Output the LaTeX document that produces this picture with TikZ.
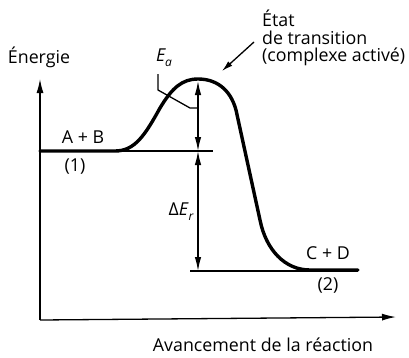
\documentclass[tikz,border=0pt]{standalone}
\usepackage{fontspec}
\setmainfont{Open Sans}
\usetikzlibrary{arrows.meta}
\begin{document}
\begin{tikzpicture}[x=1pt,y=-1pt,
  lbl/.style={inner sep=0pt,font=\fontsize{17.8}{20}\selectfont},
  thin/.style={line width=1.3pt},
  tip/.style={-{Latex[length=14pt,width=7pt]}},
  stip/.style={-{Latex[length=11pt,width=6pt]}},
  dtip/.style={{Latex[length=14pt,width=6.5pt]}-{Latex[length=14pt,width=6.5pt]}},
  curve/.style={line width=3.4pt,line cap=round,line join=round}]
\useasboundingbox (0,0) rectangle (409,357);
% axes
\coordinate (O) at (40,320);
\coordinate (Ytop) at (40,79);
\coordinate (Xend) at (396,317);
\draw[thin,tip] (O) -- (Ytop);
\draw[thin,tip] (O) -- (Xend);
% levels
\coordinate (L1a) at (40,151);
\coordinate (L1b) at (213,151);
\coordinate (L2a) at (190,271);
\coordinate (L2b) at (358,271);
\draw[thin] (L1a) -- (L1b);
\draw[thin] (L2a) -- (L2b);
% curve
\draw[curve] (40,151) -- (115,151) .. controls (135,151) and (145,135) .. (160,108)
  .. controls (172,88) and (182,79) .. (198,79)
  .. controls (215,79) and (230,88) .. (236,110) -- (260,220)
  .. controls (266,250) and (285,270) .. (310,270) -- (358,270);
% energy arrows
\coordinate (P) at (198,81);
\coordinate (A1) at (198,151);
\coordinate (A2) at (198,271);
\draw[thin,dtip] (A1) -- (P);
\draw[thin,dtip] (A1) -- (A2);
% labels
\node[lbl] (en) at (39,57) {Énergie};
\node[lbl,font=\fontsize{17.8}{20}\selectfont\itshape] (ea) at (164,58) {E\raisebox{-0.55ex}{\fontsize{12}{14}\selectfont a}};
\node[lbl] (ab) at (83,137) {A + B};
\node[lbl] (one) at (75,167) {(1)};
\node[lbl] (der) at (181,212) {Δ\textit{E}\raisebox{-0.55ex}{\fontsize{12}{14}\selectfont\itshape r}};
\node[lbl] (cd) at (328,253) {C + D};
\node[lbl] (two) at (328,285) {(2)};
\node[lbl,anchor=west] (etat) at (262,18) {État};
\node[lbl,anchor=west] (dt) at (262,38) {de transition};
\node[lbl,anchor=west] (cx) at (262,57) {(complexe activé)};
\node[lbl] (av) at (263,345) {Avancement de la réaction};
% leader for Ea
\coordinate (e1) at (158,74);
\coordinate (e2) at (158,90);
\coordinate (e3) at (190,108);
\coordinate (e4) at (198,108);
\draw[thin] (e1) -- (e2) -- (e3) -- (e4);
% arrow to transition state
\coordinate (ts1) at (254,42);
\coordinate (ts2) at (222,71);
\draw[thin,stip] (ts1) -- (ts2);
\end{tikzpicture}
\end{document}
